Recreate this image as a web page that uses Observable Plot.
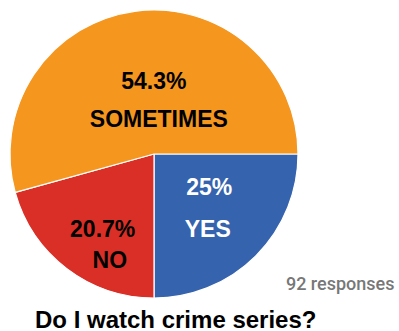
<!DOCTYPE html>
<html>
<head>
<meta charset="utf-8">
<script src="https://cdn.jsdelivr.net/npm/d3@7"></script>
<script src="https://cdn.jsdelivr.net/npm/@observablehq/plot@0.6"></script>
<style>
  html, body { margin: 0; padding: 0; background: #fff; }
  #title { font-family: "Liberation Sans", Arial, sans-serif; font-weight: bold; font-size: 24px; line-height: 28px; height: 28px; padding-left: 35px; margin-top: 6px; color: #000; white-space: nowrap; }
</style>
</head>
<body>
<div id="chart"></div>
<div id="title">Do I watch crime series?</div>
<script>
// Data
const categories = ["YES", "NO", "SOMETIMES"];
const percents = [25, 20.7, 54.3];
const percentLabels = ["25%", "20.7%", "54.3%"];
const colors = ["#3563ae", "#da2f27", "#f5961f"];
const textColors = ["#ffffff", "#000000", "#000000"];
const responsesNote = "92 responses";

// Layout: label anchor points in unit-circle coordinates (x right, y up)
const labelLayout = {
  YES: {pct: [0.38, -0.23], name: [0.37, -0.52]},
  NO: {pct: [-0.36, -0.52], name: [-0.31, -0.74]},
  SOMETIMES: {pct: [-0.005, 0.505], name: [0.03, 0.245]}
};

const slices = d3.pie().sort(null).value(d => d.value).startAngle(Math.PI / 2).endAngle(Math.PI / 2 + 2 * Math.PI)(
  categories.map((c, i) => ({category: c, value: percents[i], color: colors[i]}))
);

const labels = [];
categories.forEach((c, i) => {
  labels.push({x: labelLayout[c].pct[0], y: labelLayout[c].pct[1], text: percentLabels[i], fill: textColors[i]});
  labels.push({x: labelLayout[c].name[0], y: labelLayout[c].name[1], text: c, fill: textColors[i]});
});

function pieMark(index, scales, values, dimensions) {
  const cx = scales.x(0), cy = scales.y(0);
  const r = Math.abs(scales.x(1) - scales.x(0));
  const arc = d3.arc().innerRadius(0).outerRadius(r);
  const g = d3.create("svg:g").attr("transform", `translate(${cx},${cy})`);
  g.selectAll("path").data(slices).join("path")
    .attr("d", arc)
    .attr("fill", d => d.data.color)
    .attr("stroke", "#ffffff")
    .attr("stroke-width", 1.2)
    .attr("stroke-linejoin", "round");
  return g.node();
}

const chart = Plot.plot({
  width: 399,
  height: 300,
  marginLeft: 10,
  marginRight: 101,
  marginTop: 10,
  marginBottom: 2,
  x: {domain: [-1, 1], axis: null},
  y: {domain: [-1, 1], axis: null},
  style: {fontFamily: "'Liberation Sans', Arial, sans-serif", background: "#fff"},
  marks: [
    pieMark,
    Plot.text(labels, {x: "x", y: "y", text: "text", fill: "fill", fontSize: 23, fontWeight: "bold"}),
    Plot.text([responsesNote], {frameAnchor: "bottom-right", lineAnchor: "bottom", dx: 96, dy: -9, fill: "#777777", fontSize: 18, fontWeight: 500, fontFamily: "Roboto, 'Liberation Sans', sans-serif", textAnchor: "end"})
  ]
});
document.getElementById("chart").appendChild(chart);
</script>
</body>
</html>
